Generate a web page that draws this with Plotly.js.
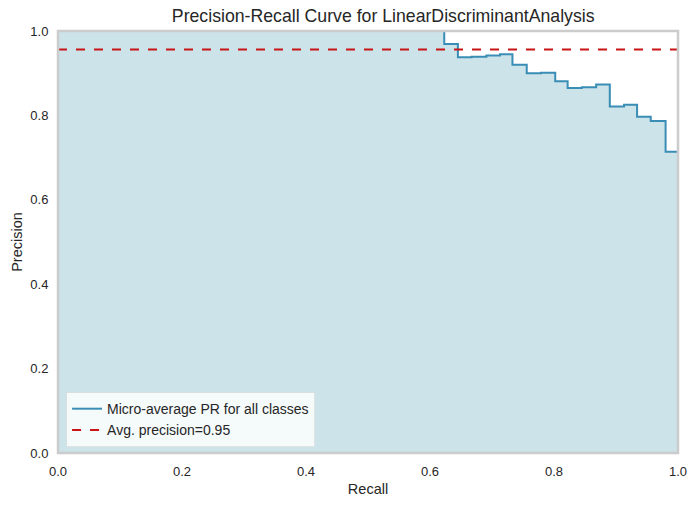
<!DOCTYPE html>
<html>
<head>
<meta charset="utf-8">
<script src="https://cdn.plot.ly/plotly-3.0.1.min.js"></script>
<style>html,body{margin:0;padding:0;background:#fff;}#chart{width:698px;height:507px;}</style>
</head>
<body>
<div id="chart"></div>
<script>
// Micro-average precision-recall curve (step, post)
const recall = [0.0, 0.623, 0.645, 0.667, 0.691, 0.713, 0.733, 0.756, 0.779, 0.802, 0.822, 0.845, 0.868, 0.890, 0.913, 0.934, 0.956, 0.980, 1.0];
const precision = [1.0, 0.969, 0.938, 0.939, 0.942, 0.945, 0.920, 0.900, 0.901, 0.881, 0.865, 0.867, 0.873, 0.821, 0.825, 0.797, 0.787, 0.714, 0.333];
const avgPrecision = 0.956;
const avgLabel = "Avg. precision=0.95";
const curveLabel = "Micro-average PR for all classes";
const tickVals = [0, 0.2, 0.4, 0.6, 0.8, 1.0];

const fillTrace = {
  x: recall, y: precision, type: 'scatter', mode: 'lines',
  line: {shape: 'hv', width: 0, color: 'rgba(0,0,0,0)'},
  fill: 'tozeroy', fillcolor: 'rgb(204,227,234)',
  showlegend: false, hoverinfo: 'skip'
};
const curveTrace = {
  x: recall, y: precision, type: 'scatter', mode: 'lines',
  name: curveLabel,
  line: {shape: 'hv', width: 2, color: '#3a8db5'}
};
const avgTrace = {
  x: [0, 1], y: [avgPrecision, avgPrecision], type: 'scatter', mode: 'lines',
  name: avgLabel,
  line: {dash: 'dash', width: 2, color: '#c81414'}
};

const axisCommon = {
  range: [0, 1], tickvals: tickVals, tickformat: '.1f',
  showgrid: false, zeroline: false,
  showline: false,
  ticks: 'outside', ticklen: 6, tickcolor: 'rgba(0,0,0,0)',
  tickfont: {size: 13, color: '#262626'}
};

const layout = {
  width: 698, height: 507,
  margin: {l: 58, r: 20, t: 31, b: 54},
  paper_bgcolor: '#ffffff', plot_bgcolor: '#ffffff',
  font: {family: 'Liberation Sans, Arial, sans-serif', color: '#262626'},
  title: {text: 'Precision-Recall Curve for LinearDiscriminantAnalysis',
          font: {size: 17.7, color: '#262626'}, x: 0.549, xanchor: 'center', y: 0.968, yanchor: 'middle'},
  xaxis: Object.assign({}, axisCommon, {
    title: {text: 'Recall', font: {size: 14.5, color: '#262626'}, standoff: 6}
  }),
  yaxis: Object.assign({}, axisCommon, {
    title: {text: 'Precision', font: {size: 14.5, color: '#262626'}, standoff: 4}
  }),
  shapes: [{
    type: 'rect', xref: 'paper', yref: 'paper', x0: 0, x1: 1, y0: 0, y1: 1,
    line: {color: '#cccccc', width: 2.5}, fillcolor: 'rgba(0,0,0,0)', layer: 'above'
  }],
  legend: {
    x: 0.013, y: 0.014, xanchor: 'left', yanchor: 'bottom',
    bgcolor: 'rgba(255,255,255,0.8)', bordercolor: 'rgba(220,220,220,0.8)', borderwidth: 1,
    font: {size: 14, color: '#262626'}, tracegroupgap: 0
  },
  showlegend: true
};

Plotly.newPlot('chart', [fillTrace, curveTrace, avgTrace], layout, {displayModeBar: false, staticPlot: true});
</script>
</body>
</html>
